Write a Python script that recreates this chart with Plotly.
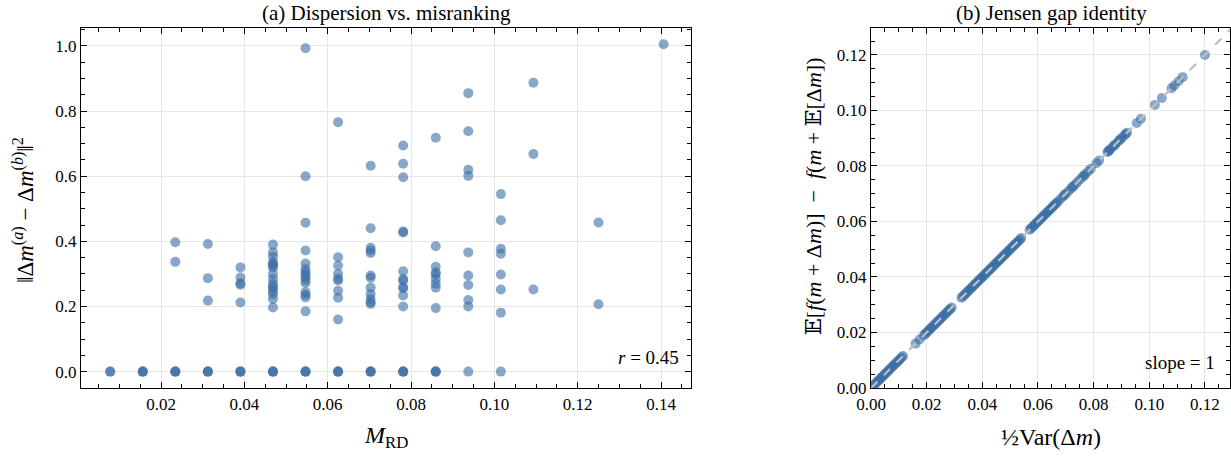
import plotly.graph_objects as go

# ---------------- Panel (a) data: M_RD levels (k/128) and distances ----------------
mrd_levels = [1/128, 2/128, 3/128, 4/128, 5/128, 6/128, 7/128, 8/128, 9/128,
              10/128, 11/128, 12/128, 13/128, 14/128, 16/128, 18/128]

dist_k1 = [0.0, 0.0]
dist_k2 = [0.0, 0.0, 0.0]
dist_k3 = [0.0, 0.0, 0.0, 0.397, 0.337]
dist_k4 = [0.0, 0.0, 0.0, 0.392, 0.287, 0.218]
dist_k5 = [0.0, 0.0, 0.0, 0.320, 0.289, 0.271, 0.267, 0.212]
dist_k6 = [0.0, 0.0, 0.0, 0.390, 0.366, 0.353, 0.336, 0.330, 0.325, 0.320,
           0.300, 0.284, 0.270, 0.262, 0.255, 0.246, 0.238, 0.223, 0.197]
dist_k7 = [0.0, 0.0, 0.0, 0.993, 0.600, 0.457, 0.372, 0.332, 0.315, 0.306,
           0.298, 0.290, 0.281, 0.272, 0.244, 0.236, 0.228, 0.185]
dist_k8 = [0.0, 0.0, 0.0, 0.766, 0.351, 0.326, 0.300, 0.285, 0.280, 0.248,
           0.227, 0.160]
dist_k9 = [0.0, 0.0, 0.0, 0.632, 0.440, 0.380, 0.372, 0.364, 0.295, 0.288,
           0.258, 0.238, 0.223, 0.213, 0.208]
dist_k10 = [0.0, 0.0, 0.0, 0.694, 0.638, 0.597, 0.430, 0.427, 0.308, 0.284,
            0.280, 0.260, 0.256, 0.234, 0.200]
dist_k11 = [0.0, 0.0, 0.0, 0.718, 0.385, 0.322, 0.304, 0.298, 0.284, 0.270,
            0.258, 0.195]
dist_k12 = [0.0, 0.855, 0.738, 0.620, 0.601, 0.366, 0.295, 0.266, 0.220, 0.200]
dist_k13 = [0.0, 0.545, 0.465, 0.377, 0.362, 0.298, 0.252, 0.181]
dist_k14 = [0.887, 0.668, 0.252]
dist_k16 = [0.458, 0.207]
dist_k18 = [1.005]

dist_by_level = [dist_k1, dist_k2, dist_k3, dist_k4, dist_k5, dist_k6, dist_k7,
                 dist_k8, dist_k9, dist_k10, dist_k11, dist_k12, dist_k13,
                 dist_k14, dist_k16, dist_k18]

mrd_x, dist_y = [], []
for lvl, ys in zip(mrd_levels, dist_by_level):
    for v in ys:
        mrd_x.append(lvl)
        dist_y.append(v)

# ---------------- Panel (b) data ----------------
half_var = [0.0005, 0.001, 0.0015, 0.002, 0.0025, 0.003, 0.0035, 0.004, 0.0045, 0.005,
            0.0055, 0.006, 0.0065, 0.007, 0.0075, 0.008, 0.0085, 0.009, 0.0095, 0.010,
            0.0105, 0.011, 0.0115,
            0.016, 0.0175, 0.019, 0.0195, 0.020, 0.0205, 0.021, 0.0215, 0.022, 0.0225,
            0.023, 0.0235, 0.024, 0.0245, 0.025, 0.0255, 0.026, 0.0265, 0.027, 0.0275,
            0.028, 0.0285, 0.029,
            0.0325, 0.033, 0.0335, 0.034, 0.0345, 0.035, 0.0355, 0.036, 0.0365, 0.037,
            0.0375, 0.038, 0.0385, 0.039, 0.0395, 0.040, 0.0405, 0.041, 0.0415, 0.042,
            0.0425, 0.043, 0.0435, 0.044, 0.0445, 0.045, 0.0455, 0.046, 0.0465, 0.047,
            0.0475, 0.048, 0.0485, 0.049, 0.0495, 0.050, 0.0505, 0.051, 0.0515, 0.052,
            0.0525, 0.053, 0.0535, 0.054,
            0.057, 0.0575, 0.058, 0.0585, 0.059, 0.0595, 0.060, 0.0605, 0.061, 0.0615,
            0.062, 0.0625, 0.063, 0.0635, 0.064, 0.0645, 0.065, 0.0655, 0.066, 0.0665,
            0.067, 0.068, 0.069, 0.0695, 0.070, 0.071, 0.072, 0.0725, 0.073, 0.074,
            0.075, 0.076, 0.0765, 0.077, 0.078, 0.079,
            0.081, 0.082, 0.085, 0.0853, 0.0856, 0.086, 0.087, 0.0875, 0.088, 0.089,
            0.0895, 0.090, 0.091, 0.0915, 0.092,
            0.0955, 0.097, 0.102, 0.1045, 0.108, 0.109, 0.1105, 0.112, 0.120]
jensen_gap = [0.0005, 0.001, 0.0015, 0.002, 0.0025, 0.003, 0.0035, 0.004, 0.0045, 0.005,
              0.0055, 0.006, 0.0065, 0.007, 0.0075, 0.008, 0.0085, 0.009, 0.0095, 0.010,
              0.0105, 0.011, 0.0115,
              0.016, 0.0175, 0.019, 0.0195, 0.020, 0.0205, 0.021, 0.0215, 0.022, 0.0225,
              0.023, 0.0235, 0.024, 0.0245, 0.025, 0.0255, 0.026, 0.0265, 0.027, 0.0275,
              0.028, 0.0285, 0.029,
              0.0325, 0.033, 0.0335, 0.034, 0.0345, 0.035, 0.0355, 0.036, 0.0365, 0.037,
              0.0375, 0.038, 0.0385, 0.039, 0.0395, 0.040, 0.0405, 0.041, 0.0415, 0.042,
              0.0425, 0.043, 0.0435, 0.044, 0.0445, 0.045, 0.0455, 0.046, 0.0465, 0.047,
              0.0475, 0.048, 0.0485, 0.049, 0.0495, 0.050, 0.0505, 0.051, 0.0515, 0.052,
              0.0525, 0.053, 0.0535, 0.054,
              0.057, 0.0575, 0.058, 0.0585, 0.059, 0.0595, 0.060, 0.0605, 0.061, 0.0615,
              0.062, 0.0625, 0.063, 0.0635, 0.064, 0.0645, 0.065, 0.0655, 0.066, 0.0665,
              0.067, 0.068, 0.069, 0.0695, 0.070, 0.071, 0.072, 0.0725, 0.073, 0.074,
              0.075, 0.076, 0.0765, 0.077, 0.078, 0.079,
              0.081, 0.082, 0.085, 0.0853, 0.0856, 0.086, 0.087, 0.0875, 0.088, 0.089,
              0.0895, 0.090, 0.091, 0.0915, 0.092,
              0.0955, 0.097, 0.102, 0.1045, 0.108, 0.109, 0.1105, 0.112, 0.120]
identity_line = [0.0, 0.14]

# ---------------- Styling ----------------
W, H = 1231, 459
FONT = "Liberation Serif, DejaVu Serif, serif"
PT_COLOR = "rgba(58,110,165,0.6)"
GRID = "#e6e6e6"


def px_x(p):
    return p / W


def px_y(p):
    return 1 - p / H


def axis_style(rng, dtick, minor_dtick, fmt, domain, anchor):
    return dict(
        domain=domain, anchor=anchor, range=rng, dtick=dtick, tick0=0,
        tickformat=fmt, showline=True, linecolor="black", linewidth=1.3,
        mirror="allticks", ticks="inside", ticklen=6, tickwidth=1.2,
        tickcolor="black", showgrid=True, gridcolor=GRID, gridwidth=0.8,
        zeroline=False, automargin=False,
        tickfont=dict(family=FONT, size=17, color="black"),
        minor=dict(dtick=minor_dtick, tick0=0, ticks="inside", ticklen=3.5,
                   tickwidth=1, tickcolor="black", showgrid=False),
    )


fig = go.Figure()

fig.add_trace(go.Scatter(
    x=mrd_x, y=dist_y, mode="markers", xaxis="x", yaxis="y",
    marker=dict(size=10, color=PT_COLOR, line=dict(width=0)),
    showlegend=False, hoverinfo="skip"))

fig.add_trace(go.Scatter(
    x=half_var, y=jensen_gap, mode="markers", xaxis="x2", yaxis="y2",
    marker=dict(size=10, color=PT_COLOR, line=dict(width=0)),
    showlegend=False, hoverinfo="skip"))

fig.add_trace(go.Scatter(
    x=identity_line, y=identity_line, mode="lines", xaxis="x2", yaxis="y2",
    line=dict(color="#bdbdbd", width=2.2, dash="dash"),
    showlegend=False, hoverinfo="skip"))

left_dom = [px_x(81), px_x(691)]
right_dom = [px_x(871), px_x(1230)]
y_dom = [px_y(388), px_y(28)]

fig.update_layout(
    width=W, height=H, margin=dict(l=0, r=0, t=0, b=0, autoexpand=False),
    paper_bgcolor="white", plot_bgcolor="white",
    font=dict(family=FONT, color="black"),
    xaxis=axis_style([0.0008, 0.1472], 0.02, 0.005, ".2f", left_dom, "y"),
    yaxis=axis_style([-0.0503, 1.055], 0.2, 0.05, ".1f", y_dom, "x"),
    xaxis2=axis_style([0, 0.129], 0.02, 0.005, ".2f", right_dom, "y2"),
    yaxis2=axis_style([0, 0.1297], 0.02, 0.005, ".2f", y_dom, "x2"),
)

ann = []
# Titles
ann.append(dict(text="(a) Dispersion vs. misranking", x=px_x(386), y=px_y(13),
                font=dict(size=21)))
ann.append(dict(text="(b) Jensen gap identity", x=px_x(1051), y=px_y(13),
                font=dict(size=21)))
# Axis labels
ann.append(dict(text="<i>M</i><sub>RD</sub>", x=px_x(386), y=px_y(437),
                font=dict(size=24)))
ann.append(dict(text="‖Δ<i>m</i><sup>(<i>a</i>)</sup> − Δ<i>m</i><sup>(<i>b</i>)</sup>‖<sup>2</sup>",
                x=px_x(24), y=px_y(210), textangle=-90, font=dict(size=23)))
ann.append(dict(text="½Var(Δ<i>m</i>)", x=px_x(1051), y=px_y(437),
                font=dict(size=24)))
ann.append(dict(text="𝔼[<i>f</i>(<i>m</i> + Δ<i>m</i>)]  −  <i>f</i>(<i>m</i> + 𝔼[Δ<i>m</i>])",
                x=px_x(814), y=px_y(196), textangle=-90, font=dict(size=22)))
# In-panel notes
ann.append(dict(text="<i>r</i> = 0.45", x=px_x(681), y=px_y(357), xanchor="right",
                font=dict(size=19)))
ann.append(dict(text="slope = 1", x=px_x(1217), y=px_y(362), xanchor="right",
                font=dict(size=19)))

for a in ann:
    a.setdefault("xanchor", "center")
    a.update(xref="paper", yref="paper", yanchor="middle", showarrow=False)
    a["font"] = dict(family=FONT, color="black", **a["font"])
fig.update_layout(annotations=ann)

fig.write_html("out.html")
